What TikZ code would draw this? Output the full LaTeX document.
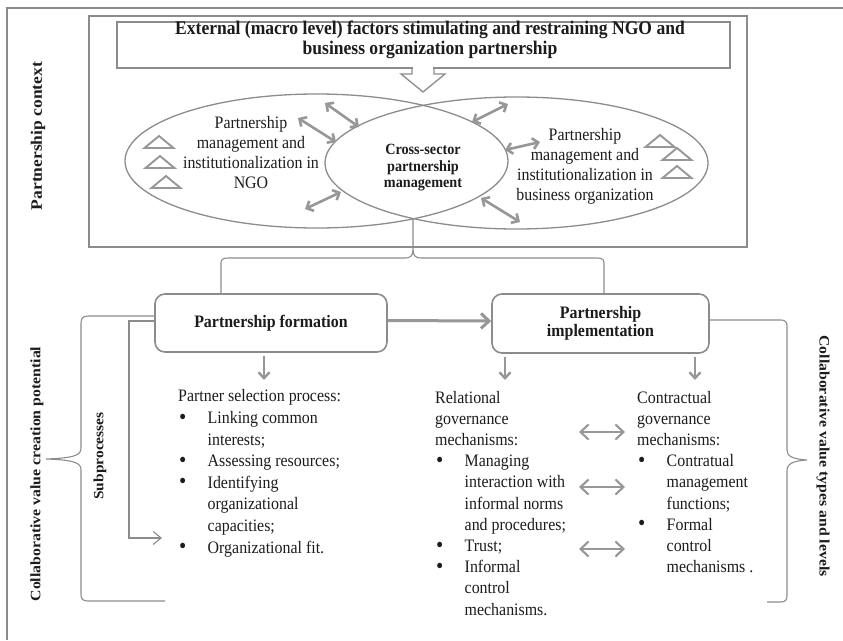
\documentclass[tikz,border=0pt]{standalone}
\usepackage{fontspec}
\setmainfont{Liberation Serif}[FakeStretch=0.91]
\newfontfamily\sideserif{Liberation Serif}
\usetikzlibrary{arrows.meta,shapes.geometric}

\definecolor{linegray}{HTML}{8C8C8C}
\definecolor{arrowgray}{HTML}{979797}
\definecolor{ink}{HTML}{1C1C1C}

% list helpers: bullet column and hanging indent
\newcommand\listbul{\hspace*{1pt}\makebox[28.5pt][l]{\raisebox{-0.6pt}{\scalebox{1.3}{\textbullet}}}}
\newcommand\listind{\hspace*{29.5pt}}
% small open triangle centred at (x,y)
\newcommand\opentri[2]{\draw[draw=arrowgray,line width=1.9pt,line join=miter] (#1-14.5,#2+6) -- (#1,#2-6) -- (#1+14.5,#2+6) -- cycle;}

\begin{document}
\begin{tikzpicture}[x=1pt,y=-1pt,
  every node/.style={text=ink},
  gline/.style={draw=linegray,line width=1.2pt},
  dblarrow/.style={draw=arrowgray,line width=2.6pt,{Straight Barb[length=5.5pt,width=11pt]}-{Straight Barb[length=5.5pt,width=11pt]}},
  colarrow/.style={draw=arrowgray,line width=2.1pt,{Straight Barb[length=8pt,width=15pt]}-{Straight Barb[length=8pt,width=15pt]}},
  downarrow/.style={draw=arrowgray,line width=2.4pt,-{Straight Barb[length=6pt,width=11pt]}},
  flowarrow/.style={draw=arrowgray,line width=3pt,-{Straight Barb[length=8pt,width=15pt]}},
  subarrow/.style={draw=linegray,line width=1.1pt,-{Straight Barb[length=8pt,width=13pt]}},
  stagebox/.style={draw=linegray,line width=1.6pt,rounded corners=10pt,fill=white,inner sep=0pt,align=center,font=\bfseries\fontsize{17.5}{18}\selectfont},
  body/.style={inner sep=0pt,align=left,anchor=base west},
  elltext/.style={inner sep=0pt,align=center,font=\fontsize{17.5}{20}\selectfont},
  ring/.style={draw=linegray,line width=1.3pt,ellipse,inner sep=0pt},
  sidelabel/.style={inner sep=0pt,font=\sideserif\bfseries\fontsize{15.8}{18}\selectfont}
]
\useasboundingbox (0,0) rectangle (843,640);
\fill[white] (0,0) rectangle (843,640);

% outer frame
\draw[gline,line width=1.5pt] (843,8) -- (7,8) -- (7,640);

% partnership context box
\node[draw=linegray,line width=2pt,minimum width=658pt,minimum height=231pt,inner sep=0pt] (context) at (418,131.5) {};

% external factors box and its block arrow
\node[draw=linegray,line width=1.5pt,minimum width=613pt,minimum height=46pt,inner sep=0pt] (titlebox) at (423.5,45) {};
\node[inner sep=0pt,align=center,font=\bfseries\fontsize{19.3}{20}\selectfont] (title) at (430,39.5)
  {External (macro level) factors stimulating and restraining NGO and\\business organization partnership};
\fill[white] (413,65) rectangle (433,71);
\draw[gline,line width=1.3pt,line join=miter] (412,68) -- (412,74) -- (401,74) -- (423,92) -- (445,74) -- (434,74) -- (434,68);

% the two overlapping spheres
\node[ring,minimum width=383pt,minimum height=134pt] (ngoring) at (316.5,161) {};
\node[ring,minimum width=383pt,minimum height=132pt] (bizring) at (516.5,163) {};

\node[elltext] (ngotext) at (251,152.5) {Partnership\\management and\\institutionalization in\\NGO};
\node[elltext] (biztext) at (585,166) {Partnership\\management and\\institutionalization in\\business organization};
\node[inner sep=0pt,align=center,font=\bfseries\fontsize{15.6}{16.5}\selectfont] (crosstext) at (423,167.8) {Cross-sector\\partnership\\management};

\opentri{159}{142}
\opentri{160}{162}
\opentri{166}{182}
\opentri{660}{141}
\opentri{677}{154}
\opentri{677}{172}

% interaction arrows around the common zone
\coordinate (a1) at (298,118); \coordinate (b1) at (336,142);
\coordinate (a2) at (325,103); \coordinate (b2) at (359,127);
\coordinate (a3) at (472,122); \coordinate (b3) at (508,104);
\coordinate (a4) at (505,150); \coordinate (b4) at (540,142);
\coordinate (a5) at (305,209); \coordinate (b5) at (341,192);
\coordinate (a6) at (481,198); \coordinate (b6) at (520,222);
\foreach \i in {1,...,6} \draw[dblarrow] (a\i) -- (b\i);

% process stages
\node[stagebox,minimum width=232pt,minimum height=58pt] (form) at (271,323) {Partnership formation};
\node[stagebox,minimum width=217pt,minimum height=59pt] (impl) at (600.5,323.5) {Partnership\\implementation};

\draw[flowarrow] ([yshift=2.5pt]form.east) -- ([yshift=2.5pt]impl.west);

% brace from the common zone to both stages
\coordinate (meet) at (413,219);
\coordinate (formtop) at (221,294);
\coordinate (impltop) at (604,294);
\draw[gline,line width=1.1pt] (formtop) -- (221,263) .. controls (221,259.5) and (223,258) .. (228,258) -- (405,258)
  .. controls (410,258) and (413,256) .. (413,250) -- (meet);
\draw[gline,line width=1.1pt] (impltop) -- (604,263) .. controls (604,259.5) and (602,258) .. (597,258) -- (421,258)
  .. controls (416,258) and (413,256) .. (413,250);

% arrows down to the stage contents
\coordinate (selin) at (264,380);
\coordinate (relin) at (505,380);
\coordinate (conin) at (695,380);
\draw[downarrow,shorten <=3pt] (form.south -| selin) -- (selin);
\draw[downarrow,shorten <=3pt] (impl.south -| relin) -- (relin);
\draw[downarrow,shorten <=3pt] (impl.south -| conin) -- (conin);

% stage contents (anchored at the baseline of the last line)
\node[body,font=\fontsize{17.5}{21.6}\selectfont] (selection) at (178,553) {Partner selection process:\\
\listbul Linking common\\
\listind interests;\\
\listbul Assessing resources;\\
\listbul Identifying\\
\listind organizational\\
\listind capacities;\\
\listbul Organizational fit.};

\node[body,font=\fontsize{17.5}{21.2}\selectfont] (relational) at (435,615) {Relational\\
governance\\
mechanisms:\\
\listbul Managing\\
\listind interaction with\\
\listind informal norms\\
\listind and procedures;\\
\listbul Trust;\\
\listbul Informal\\
\listind control\\
\listind mechanisms.};

\node[body,font=\fontsize{17.5}{21.2}\selectfont] (contractual) at (637,572.6) {Contractual\\
governance\\
mechanisms:\\
\listbul Contratual\\
\listind management\\
\listind functions;\\
\listbul Formal\\
\listind control\\
\listind mechanisms .};

% links between relational and contractual mechanisms
\coordinate (c1) at (579,432); \coordinate (d1) at (625,432);
\coordinate (c2) at (579,487); \coordinate (d2) at (625,487);
\coordinate (c3) at (579,549); \coordinate (d3) at (625,549);
\foreach \i in {1,2,3} \draw[colarrow] (c\i) -- (d\i);

% subprocess connector
\coordinate (subout) at (155,321);
\coordinate (subin) at (162,538);
\draw[subarrow] (subout) -- (129,321) -- (129,538) -- (subin);

% left brace
\coordinate (lbtop) at (155,316);
\coordinate (lbend) at (165,601);
\draw[gline,line width=1.1pt] (lbtop) -- (88,316) .. controls (83,316) and (81,318) .. (81,323) -- (81,448)
  .. controls (81,455) and (75,458) .. (46,459) .. controls (75,460) and (81,463) .. (81,470) -- (81,595)
  .. controls (81,599) and (83,601) .. (88,601) -- (lbend);

% right brace
\coordinate (rbtop) at (709,320);
\coordinate (rbend) at (767,602);
\draw[gline,line width=1.1pt] (rbtop) -- (781,320) .. controls (785,320) and (787,322) .. (787,326) -- (787,450)
  .. controls (787,456) and (792,459) .. (807,460) .. controls (792,461) and (787,464) .. (787,471) -- (787,596)
  .. controls (787,600) and (785,602) .. (781,602) -- (rbend);

% side labels
\node[sidelabel,rotate=90,font=\sideserif\bfseries\fontsize{17.5}{20}\selectfont] (ctxlabel) at (38,136) {\scalebox{1}[0.91]{Partnership context}};
\node[sidelabel,rotate=90] (potlabel) at (37,474) {\scalebox{1}[0.91]{Collaborative value creation potential}};
\node[sidelabel,rotate=90,font=\sideserif\bfseries\fontsize{15.5}{18}\selectfont] (sublabel) at (100,456) {\scalebox{1}[0.91]{Subprocesses}};
\node[sidelabel,rotate=-90] (typelabel) at (823,456) {\scalebox{1}[0.91]{Collaborative value types and levels}};
\end{tikzpicture}
\end{document}
